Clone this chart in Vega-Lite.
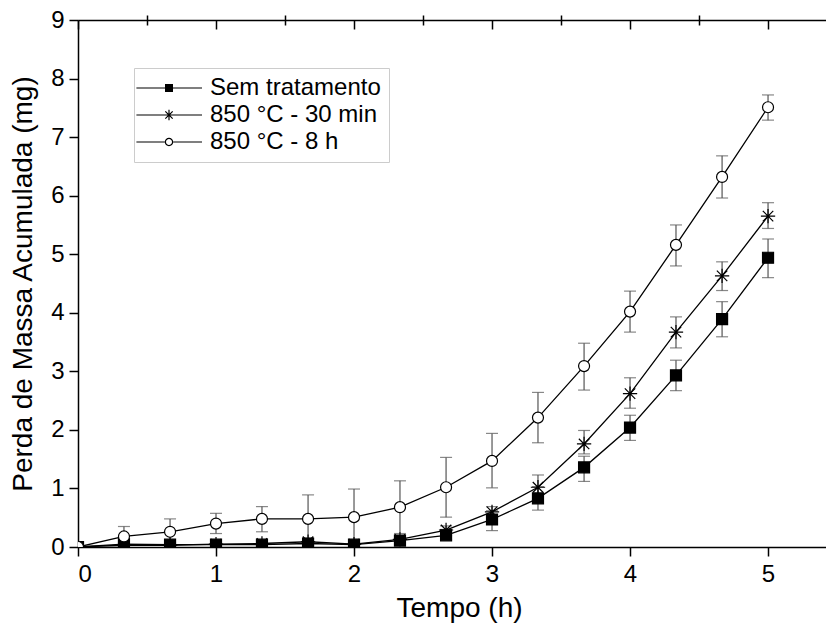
{
  "$schema": "https://vega.github.io/schema/vega-lite/v6.json",
  "width": 748,
  "height": 527,
  "autosize": "none",
  "padding": {"left": 78, "top": 20, "right": 0, "bottom": 81},
  "background": "white",
  "config": {
    "view": {"stroke": null},
    "font": "Liberation Sans",
    "axis": {"labelFont": "Liberation Sans", "titleFont": "Liberation Sans", "labelColor": "black", "titleColor": "black", "domainColor": "black", "tickColor": "black", "domainWidth": 1.5, "tickWidth": 1.5, "grid": false, "titleFontWeight": "normal"}
  },
  "data": {"values": [
    {"s": "Sem tratamento", "t": 0, "v": 0, "lo": 0, "hi": 0},
    {"s": "Sem tratamento", "t": 0.333, "v": 0.05, "lo": 0.02, "hi": 0.08},
    {"s": "Sem tratamento", "t": 0.667, "v": 0.04, "lo": 0.02, "hi": 0.07},
    {"s": "Sem tratamento", "t": 1, "v": 0.04, "lo": 0.01, "hi": 0.07},
    {"s": "Sem tratamento", "t": 1.333, "v": 0.04, "lo": 0.01, "hi": 0.07},
    {"s": "Sem tratamento", "t": 1.667, "v": 0.06, "lo": 0.02, "hi": 0.1},
    {"s": "Sem tratamento", "t": 2, "v": 0.04, "lo": 0.01, "hi": 0.07},
    {"s": "Sem tratamento", "t": 2.333, "v": 0.11, "lo": 0.06, "hi": 0.16},
    {"s": "Sem tratamento", "t": 2.667, "v": 0.2, "lo": 0.12, "hi": 0.3},
    {"s": "Sem tratamento", "t": 3, "v": 0.47, "lo": 0.28, "hi": 0.62},
    {"s": "Sem tratamento", "t": 3.333, "v": 0.83, "lo": 0.63, "hi": 1.03},
    {"s": "Sem tratamento", "t": 3.667, "v": 1.36, "lo": 1.12, "hi": 1.55},
    {"s": "Sem tratamento", "t": 4, "v": 2.04, "lo": 1.82, "hi": 2.25},
    {"s": "Sem tratamento", "t": 4.333, "v": 2.93, "lo": 2.67, "hi": 3.19},
    {"s": "Sem tratamento", "t": 4.667, "v": 3.89, "lo": 3.59, "hi": 4.19},
    {"s": "Sem tratamento", "t": 5, "v": 4.94, "lo": 4.6, "hi": 5.26},
    {"s": "850 °C - 30 min", "t": 0, "v": 0, "lo": 0, "hi": 0},
    {"s": "850 °C - 30 min", "t": 0.333, "v": 0.03, "lo": 0.0, "hi": 0.06},
    {"s": "850 °C - 30 min", "t": 0.667, "v": 0.03, "lo": 0.0, "hi": 0.06},
    {"s": "850 °C - 30 min", "t": 1, "v": 0.05, "lo": 0.02, "hi": 0.11},
    {"s": "850 °C - 30 min", "t": 1.333, "v": 0.06, "lo": 0.02, "hi": 0.11},
    {"s": "850 °C - 30 min", "t": 1.667, "v": 0.09, "lo": 0.03, "hi": 0.15},
    {"s": "850 °C - 30 min", "t": 2, "v": 0.05, "lo": 0.02, "hi": 0.09},
    {"s": "850 °C - 30 min", "t": 2.333, "v": 0.13, "lo": 0.08, "hi": 0.18},
    {"s": "850 °C - 30 min", "t": 2.667, "v": 0.29, "lo": 0.2, "hi": 0.36},
    {"s": "850 °C - 30 min", "t": 3, "v": 0.6, "lo": 0.5, "hi": 0.69},
    {"s": "850 °C - 30 min", "t": 3.333, "v": 1.02, "lo": 0.82, "hi": 1.23},
    {"s": "850 °C - 30 min", "t": 3.667, "v": 1.76, "lo": 1.59, "hi": 1.99},
    {"s": "850 °C - 30 min", "t": 4, "v": 2.62, "lo": 2.37, "hi": 2.89},
    {"s": "850 °C - 30 min", "t": 4.333, "v": 3.67, "lo": 3.4, "hi": 3.93},
    {"s": "850 °C - 30 min", "t": 4.667, "v": 4.63, "lo": 4.38, "hi": 4.87},
    {"s": "850 °C - 30 min", "t": 5, "v": 5.65, "lo": 5.44, "hi": 5.88},
    {"s": "850 °C - 8 h", "t": 0, "v": 0, "lo": 0, "hi": 0},
    {"s": "850 °C - 8 h", "t": 0.333, "v": 0.18, "lo": 0.0, "hi": 0.35},
    {"s": "850 °C - 8 h", "t": 0.667, "v": 0.26, "lo": 0.04, "hi": 0.48},
    {"s": "850 °C - 8 h", "t": 1, "v": 0.4, "lo": 0.23, "hi": 0.575},
    {"s": "850 °C - 8 h", "t": 1.333, "v": 0.48, "lo": 0.26, "hi": 0.69},
    {"s": "850 °C - 8 h", "t": 1.667, "v": 0.48, "lo": 0.07, "hi": 0.89},
    {"s": "850 °C - 8 h", "t": 2, "v": 0.51, "lo": 0.03, "hi": 0.99},
    {"s": "850 °C - 8 h", "t": 2.333, "v": 0.68, "lo": 0.23, "hi": 1.13},
    {"s": "850 °C - 8 h", "t": 2.667, "v": 1.02, "lo": 0.51, "hi": 1.53},
    {"s": "850 °C - 8 h", "t": 3, "v": 1.47, "lo": 1.01, "hi": 1.94},
    {"s": "850 °C - 8 h", "t": 3.333, "v": 2.21, "lo": 1.78, "hi": 2.64},
    {"s": "850 °C - 8 h", "t": 3.667, "v": 3.09, "lo": 2.68, "hi": 3.48},
    {"s": "850 °C - 8 h", "t": 4, "v": 4.02, "lo": 3.67, "hi": 4.37},
    {"s": "850 °C - 8 h", "t": 4.333, "v": 5.16, "lo": 4.8, "hi": 5.5},
    {"s": "850 °C - 8 h", "t": 4.667, "v": 6.32, "lo": 5.96, "hi": 6.68},
    {"s": "850 °C - 8 h", "t": 5, "v": 7.51, "lo": 7.29, "hi": 7.72}
  ]},
  "resolve": {"axis": {"x": "independent", "y": "independent"}, "scale": {"shape": "independent"}, "legend": {"shape": "independent"}},
  "layer": [
    {
      "mark": {"type": "rule", "color": "#555555", "strokeWidth": 1.2, "clip": true},
      "encoding": {
        "x": {"field": "t", "type": "quantitative", "scale": {"domain": [0, 5.42], "nice": false, "zero": false}, "axis": {
          "title": "Tempo (h)", "titleFontSize": 28, "titlePadding": 8, "titleX": 381,
          "labelFontSize": 24, "labelPadding": 6, "format": "d",
          "values": [0, 1, 2, 3, 4, 5], "tickSize": 9
        }},
        "y": {"field": "lo", "type": "quantitative", "scale": {"domain": [0, 9], "nice": false}, "axis": {
          "title": "Perda de Massa Acumulada (mg)", "titleFontSize": 28, "titlePadding": 13,
          "labelFontSize": 24, "labelPadding": 5, "format": "d",
          "values": [0, 1, 2, 3, 4, 5, 6, 7, 8, 9], "tickSize": 9
        }},
        "y2": {"field": "hi"}
      }
    },
    {
      "mark": {"type": "tick", "orient": "horizontal", "color": "#555555", "size": 12, "thickness": 1.2, "clip": true},
      "encoding": {
        "x": {"field": "t", "type": "quantitative", "axis": {
          "title": null, "labels": false, "domain": false,
          "values": [0.5, 1.5, 2.5, 3.5, 4.5], "tickSize": 5
        }},
        "y": {"field": "lo", "type": "quantitative", "axis": {
          "title": null, "labels": false, "domain": false,
          "values": [0.5, 1.5, 2.5, 3.5, 4.5, 5.5, 6.5, 7.5, 8.5], "tickSize": 5
        }}
      }
    },
    {
      "mark": {"type": "tick", "orient": "horizontal", "color": "#555555", "size": 12, "thickness": 1.2, "clip": true},
      "encoding": {
        "x": {"field": "t", "type": "quantitative", "axis": {
          "orient": "top", "title": null, "labels": false,
          "values": [0, 1, 2, 3, 4, 5], "tickSize": -9
        }},
        "y": {"field": "hi", "type": "quantitative", "axis": null}
      }
    },
    {
      "mark": {"type": "line", "color": "black", "strokeWidth": 1.3, "clip": true},
      "encoding": {
        "x": {"field": "t", "type": "quantitative", "axis": {
          "orient": "top", "title": null, "labels": false, "domain": false,
          "values": [0.5, 1.5, 2.5, 3.5, 4.5], "tickSize": -5
        }},
        "y": {"field": "v", "type": "quantitative", "axis": null},
        "detail": {"field": "s"}
      }
    },
    {
      "mark": {"type": "point", "filled": true, "stroke": "black", "strokeWidth": 1.2, "size": 121, "opacity": 1, "clip": true},
      "encoding": {
        "x": {"field": "t", "type": "quantitative", "axis": null},
        "y": {"field": "v", "type": "quantitative", "axis": null},
        "fill": {"field": "s", "type": "nominal", "legend": null,
          "scale": {"domain": ["Sem tratamento", "850 °C - 30 min", "850 °C - 8 h"], "range": ["black", "transparent", "white"]}},
        "shape": {"field": "s", "type": "nominal", "legend": null,
          "scale": {"domain": ["Sem tratamento", "850 °C - 30 min", "850 °C - 8 h"], "range": ["square", "M 0 -1.3 L 0 1.3 M -1.3 0 L 1.3 0 M -0.95 -0.95 L 0.95 0.95 M -0.95 0.95 L 0.95 -0.95", "circle"]}}
      }
    },
    {
      "mark": {"type": "point", "filled": true, "stroke": "black", "strokeWidth": 1.2, "size": 64, "opacity": 0, "clip": true},
      "encoding": {
        "x": {"field": "t", "type": "quantitative", "axis": null},
        "y": {"field": "v", "type": "quantitative", "axis": null},
        "fill": {"field": "s", "type": "nominal", "legend": null},
        "shape": {"field": "s", "type": "nominal",
          "scale": {"domain": ["Sem tratamento", "850 °C - 30 min", "850 °C - 8 h"], "range": [
            "M -4.4 -0.15 L 12 -0.15 L 12 0.15 L -4.4 0.15 Z M 2.75 -1 L 4.75 -1 L 4.75 1 L 2.75 1 Z",
            "M -4.4 -0.15 L 12 -0.15 L 12 0.15 L -4.4 0.15 Z M 3.6 -1.3 L 3.9 -1.3 L 3.9 1.3 L 3.6 1.3 Z M 2.725 -0.813 L 2.937 -1.025 L 4.775 0.813 L 4.563 1.025 Z M 2.937 1.025 L 2.725 0.813 L 4.563 -1.025 L 4.775 -0.813 Z",
            "M -4.4 -0.15 L 2.7 -0.15 L 2.7 0.15 L -4.4 0.15 Z M 4.8 -0.15 L 12 -0.15 L 12 0.15 L 4.8 0.15 Z M 2.7 0 A 1.05 1.05 0 1 1 4.8 0 A 1.05 1.05 0 1 1 2.7 0 Z M 3 0 A 0.75 0.75 0 1 0 4.5 0 A 0.75 0.75 0 1 0 3 0 Z"
          ]},
          "legend": {
            "title": null, "orient": "none", "legendX": 56, "legendY": 48,
            "labelFont": "Liberation Sans", "labelFontSize": 24, "labelColor": "black", "labelLimit": 400,
            "strokeColor": "#cccccc", "padding": 8, "rowPadding": 3,
            "symbolSize": 64, "labelOffset": 44, "symbolOpacity": 1,
            "symbolStrokeColor": "black", "symbolStrokeWidth": 1.2
          }
        }
      }
    }
  ]
}
